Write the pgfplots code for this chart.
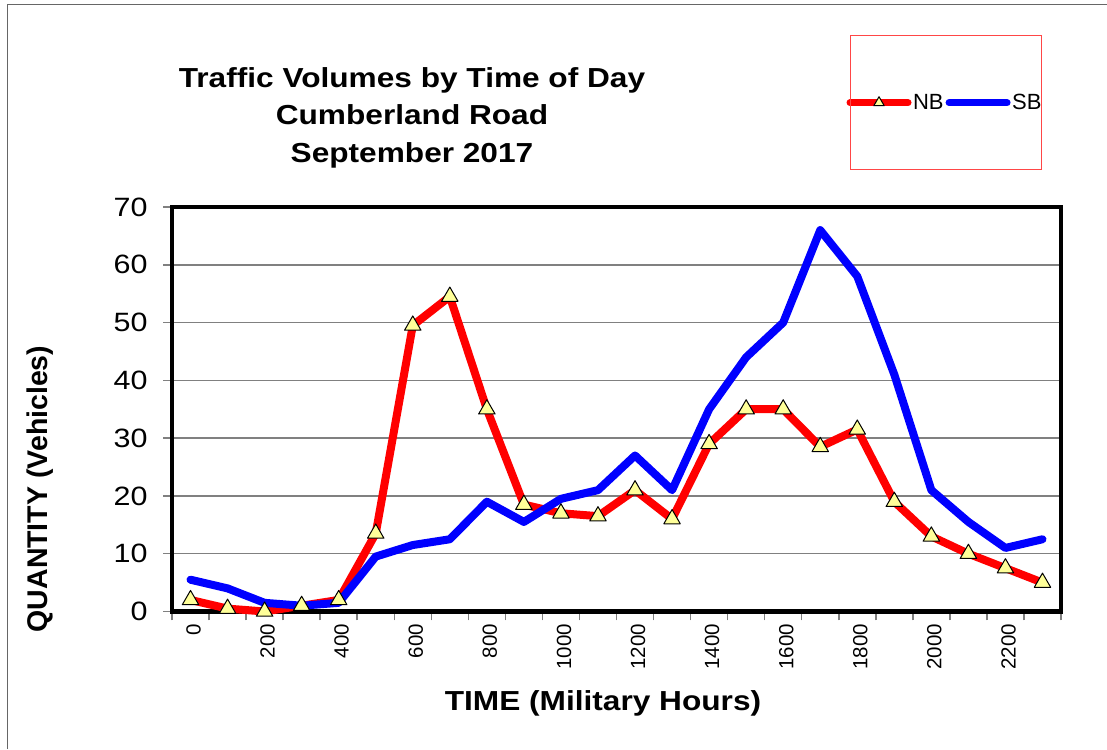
\documentclass[border=0pt]{standalone}
\usepackage{pgfplots}
\pgfplotsset{compat=1.18}
\usepackage{fontspec}
\setmainfont{Liberation Sans}
\newfontfamily\hfont[FakeStretch=1.15]{Liberation Sans}
\definecolor{nbred}{RGB}{255,0,0}
\definecolor{sbblue}{RGB}{0,0,255}
\definecolor{mkfill}{RGB}{255,255,153}
\definecolor{legred}{RGB}{255,70,70}
\begin{document}
\begin{tikzpicture}[x=1pt,y=1pt]
\path[use as bounding box] (0,0) rectangle (1107,749);
\fill[white] (0,0) rectangle (1107,749);
\draw[black!60, line width=1pt] (7,0) -- (7,744) -- (1107,744);
\begin{axis}[
  at={(172pt,137.5pt)}, anchor=south west,
  scale only axis, width=889pt, height=404.5pt,
  xmin=-0.5, xmax=23.5, ymin=0, ymax=70,
  clip=false,
  ytick={0,10,...,70},
  xtick={-0.5,0.5,...,23.5},
  xticklabels={},
  xtick pos=bottom, ytick pos=left,
  extra x ticks={0,2,...,22},
  extra x tick labels={0,200,400,600,800,1000,1200,1400,1600,1800,2000,2200},
  extra x tick style={tick style={draw=none},
    xticklabel style={rotate=90, anchor=east, yshift=-3pt, font=\fontsize{20.5}{24}\selectfont}},
  tick align=outside,
  major tick length=9pt,
  tick style={black!50, line width=1.5pt},
  ymajorgrids,
  grid style={black!50, line width=1.5pt},
  axis line style={black, line width=4.5pt, line cap=rect},
  /pgf/number format/assume math mode=true,
  yticklabel style={font=\hfont\fontsize{26.5}{30}\selectfont, xshift=-12pt},
  legend columns=2,
  legend style={at={(0.7585,1.2578)}, anchor=west, draw=none, fill=none,
    font=\fontsize{22}{26}\selectfont, inner sep=0pt,
    nodes={inner sep=1.5pt},
    /tikz/every even column/.append style={column sep=0.5pt}},
  legend cell align=left,
]
\addplot[nbred, line width=8pt, line join=round, line cap=round,
  mark=triangle*, mark size=9.5pt,
  mark options={fill=mkfill, draw=black, line width=1pt},
  legend image code/.code={\draw[mark repeat=2, mark phase=2, line width=7pt, mark size=6pt]
    plot coordinates {(0pt,0pt) (29pt,0pt) (58pt,0pt)};}]
coordinates {
(0,2) (1,0.5) (2,0) (3,1) (4,2) (5,13.5) (6,49.5) (7,54.5) (8,35) (9,18.5)
(10,17) (11,16.5) (12,21) (13,16) (14,29) (15,35) (16,35) (17,28.5) (18,31.5)
(19,19) (20,13) (21,10) (22,7.5) (23,5)
};
\addlegendentry{NB}
\addplot[sbblue, line width=8pt, line join=round, line cap=round,
  legend image code/.code={\draw[line width=7pt]
    plot coordinates {(0pt,0pt) (58pt,0pt)};}]
coordinates {
(0,5.5) (1,4) (2,1.5) (3,1) (4,1.5) (5,9.5) (6,11.5) (7,12.5) (8,19) (9,15.5)
(10,19.5) (11,21) (12,27) (13,21) (14,35) (15,44) (16,50) (17,66) (18,58)
(19,41) (20,21) (21,15.5) (22,11) (23,12.5)
};
\addlegendentry{SB}
\end{axis}
\draw[legred, line width=1pt] (850,579) rectangle (1041,713);
\node[anchor=base, font=\hfont\bfseries\fontsize{27.5}{33}\selectfont] at (412,661.5) {Traffic Volumes by Time of Day};
\node[anchor=base, font=\hfont\bfseries\fontsize{27.5}{33}\selectfont] at (412,624) {Cumberland Road};
\node[anchor=base, font=\hfont\bfseries\fontsize{27.5}{33}\selectfont] at (412,586.5) {September 2017};
\node[anchor=base, font=\hfont\bfseries\fontsize{27.5}{33}\selectfont] at (603,39) {TIME (Military Hours)};
\node[rotate=90, font=\bfseries\fontsize{28.5}{33}\selectfont] at (40,260) {QUANTITY (Vehicles)};
\end{tikzpicture}
\end{document}
